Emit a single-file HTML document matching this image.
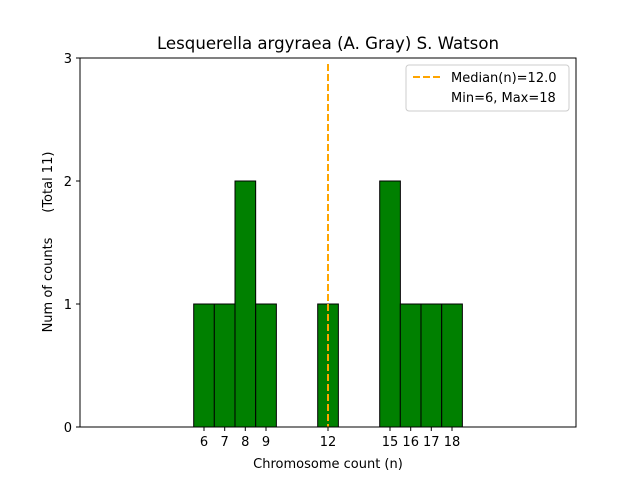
<!DOCTYPE html>
<html><head><style>body{margin:0;background:#fff}</style></head><body>
<svg width="640" height="480" xmlns="http://www.w3.org/2000/svg" font-family="DejaVu Sans, Liberation Sans, sans-serif">
<rect width="640" height="480" fill="#fff"/>
<g fill="#008000" stroke="#000" stroke-width="1">
<rect x="193.7" y="304" width="20.67" height="123"/>
<rect x="214.3" y="304" width="20.67" height="123"/>
<rect x="235" y="181" width="20.67" height="246"/>
<rect x="255.7" y="304" width="20.67" height="123"/>
<rect x="317.7" y="304" width="20.67" height="123"/>
<rect x="379.7" y="181" width="20.67" height="246"/>
<rect x="400.3" y="304" width="20.67" height="123"/>
<rect x="421" y="304" width="20.67" height="123"/>
<rect x="441.7" y="304" width="20.67" height="123"/>
</g>
<line x1="80" y1="427" x2="524" y2="427" stroke="#000"/>
<line x1="328" y1="64" x2="328" y2="427" stroke="#FFA500" stroke-width="2" stroke-dasharray="7,3"/>
<rect x="80" y="58" width="496" height="369" fill="none" stroke="#000" stroke-width="1"/>
<g stroke="#000">
<line x1="80" y1="427" x2="76" y2="427"/><line x1="80" y1="304" x2="76" y2="304"/>
<line x1="80" y1="181" x2="76" y2="181"/><line x1="80" y1="58" x2="76" y2="58"/>
<line x1="204" y1="427" x2="204" y2="431"/><line x1="224.7" y1="427" x2="224.7" y2="431"/>
<line x1="245.3" y1="427" x2="245.3" y2="431"/><line x1="266" y1="427" x2="266" y2="431"/>
<line x1="328" y1="427" x2="328" y2="431"/><line x1="390" y1="427" x2="390" y2="431"/>
<line x1="410.7" y1="427" x2="410.7" y2="431"/><line x1="431.3" y1="427" x2="431.3" y2="431"/>
<line x1="452" y1="427" x2="452" y2="431"/>
</g>
<g font-size="13" text-anchor="end">
<text x="72" y="432">0</text><text x="72" y="309">1</text><text x="72" y="186">2</text><text x="72" y="63">3</text>
</g>
<g font-size="13" text-anchor="middle">
<text x="204" y="446">6</text><text x="224.7" y="446">7</text><text x="245.3" y="446">8</text><text x="266" y="446">9</text>
<text x="328" y="446">12</text><text x="390" y="446">15</text><text x="410.7" y="446">16</text><text x="431.3" y="446">17</text><text x="452" y="446">18</text>
<text x="328" y="468">Chromosome count (n)</text>
<text x="328" y="49" font-size="16.6">Lesquerella argyraea (A. Gray) S. Watson</text>
</g>
<text transform="translate(52,242) rotate(-90)" font-size="13" text-anchor="middle" style="white-space:pre">Num of counts      (Total 11)</text>
<rect x="406" y="65" width="163" height="46" rx="3" fill="#fff" stroke="#ccc"/>
<line x1="413" y1="77" x2="441" y2="77" stroke="#FFA500" stroke-width="2" stroke-dasharray="7,3"/>
<text x="451" y="82" font-size="13">Median(n)=12.0</text>
<text x="451" y="102" font-size="13">Min=6, Max=18</text>
</svg>
</body></html>
